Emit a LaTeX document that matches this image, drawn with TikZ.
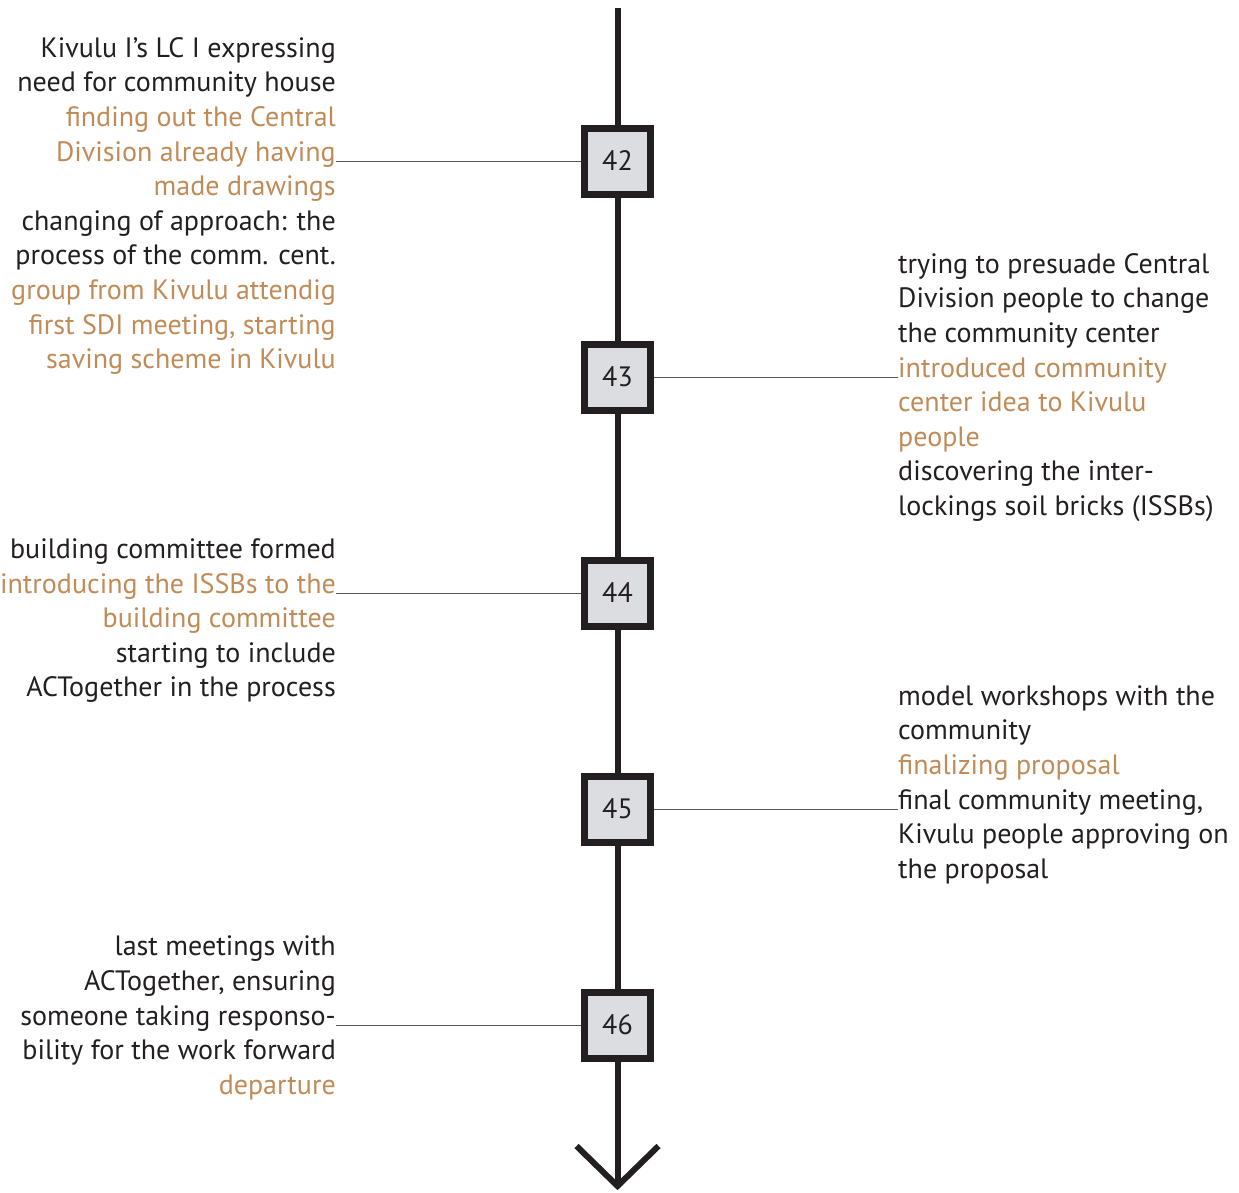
\documentclass[tikz,border=0pt]{standalone}
\usepackage{fontspec}
\setmainfont{PT Sans}
\usepackage{xcolor}
\usetikzlibrary{positioning,calc}
\definecolor{ink}{RGB}{35,31,32}
\definecolor{ochre}{RGB}{193,139,87}
\definecolor{boxgray}{RGB}{220,221,224}
\newcommand{\och}[1]{\textcolor{ochre}{#1}}
\tikzstyle{spine} = [line width=6pt, ink]
\tikzstyle{link} = [line width=1pt, ink!75]

\begin{document}
\begin{tikzpicture}
    [x=1pt,y=-1pt,every node/.style={inner sep=0pt, text=ink},
    yearbox/.style={rectangle, draw=ink, fill=boxgray, line width=7pt,
    minimum size=66pt, font=\fontsize{28}{30}\selectfont},
    lefttext/.style={anchor=base east, align=right,
    font=\fontsize{28}{34.6}\selectfont},
    righttext/.style={anchor=base west, align=left,
    font=\fontsize{28}{34.6}\selectfont}]
    \useasboundingbox (0,0) rectangle (1239,1192);
    \coordinate (top) at (617.5,8);
    \coordinate (tip) at (617.5,1186);
    \node[yearbox] (b42) at (617.5,161) {42};
    \node[yearbox] (b43) at (617.5,377) {43};
    \node[yearbox] (b44) at (617.5,593) {44};
    \node[yearbox] (b45) at (617.5,809) {45};
    \node[yearbox] (b46) at (617.5,1025) {46};
    % text blocks (placed by the baseline of their last line)
    \node[lefttext] (t42) at (336,368.6) {Kivulu I’s LC I expressing\\
    need for community house\\
    \och{finding out the Central}\\
    \och{Division already having}\\
    \och{made drawings}\\
    changing of approach: the\\
    process of the comm. cent.\\
    \och{group from Kivulu attendig}\\
    \och{first SDI meeting, starting}\\
    \och{saving scheme in Kivulu}};
    \node[righttext] (t43) at (898,515.4) {trying to presuade Central\\
    Division people to change\\
    the community center\\
    \och{introduced community}\\
    \och{center idea to Kivulu}\\
    \och{people}\\
    discovering the inter-\\
    lockings soil bricks (ISSBs)};
    \node[lefttext] (t44) at (336,696.8) {building committee formed\\
    \och{introducing the ISSBs to the}\\
    \och{building committee}\\
    starting to include\\
    ACTogether in the process};
    \node[righttext] (t45) at (898,878.2) {model workshops with the\\
    community\\
    \och{finalizing proposal}\\
    final community meeting,\\
    Kivulu people approving on\\
    the proposal};
    \node[lefttext] (t46) at (336,1094.2) {last meetings with\\
    ACTogether, ensuring\\
    someone taking responso-\\
    bility for the work forward\\
    \och{departure}};
    % spine and arrow
    \draw[spine] (top) -- (b42) -- (b43) -- (b44) -- (b45) -- (b46) -- (tip);
    \draw[spine] ($(tip)+(-41,-40)$) -- (tip) -- ($(tip)+(41,-40)$);
    \foreach \b/\t/\near/\far in {b42/t42/west/east,b43/t43/east/west,
    b44/t44/west/east,b45/t45/east/west,b46/t46/west/east}
    \draw[link] (\b.\near) -- (\b.\near -| \t.\far);
\end{tikzpicture}
\end{document}
